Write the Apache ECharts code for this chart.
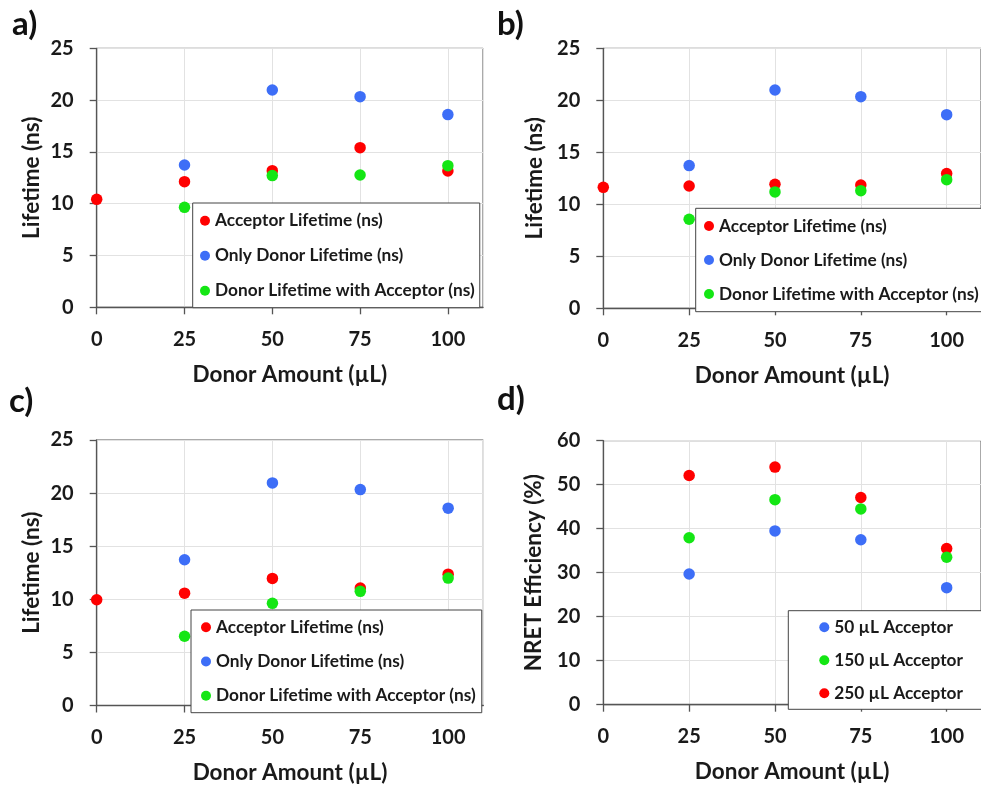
<!DOCTYPE html>
<html>
<head>
<meta charset="utf-8">
<script src="https://cdn.jsdelivr.net/npm/echarts@6/dist/echarts.min.js"></script>
<style>
html,body{margin:0;padding:0;background:#fff;}
#chart{width:981px;height:785px;}
</style>
</head>
<body>
<div id="chart"></div>
<script>
// ---- data ----
const donorAll = [0, 25, 50, 75, 100];
const donorNoZero = [25, 50, 75, 100];
const xTickLabels = ['0', '25', '50', '75', '100'];

const seriesNamesLifetime = ['Acceptor Lifetime (ns)', 'Only Donor Lifetime (ns)', 'Donor Lifetime with Acceptor (ns)'];
const seriesNamesEff = ['50 µL Acceptor', '150 µL Acceptor', '250 µL Acceptor'];

// panel a
const aAcceptor = [10.42, 12.13, 13.19, 15.41, 13.16];
const aOnlyDonor = [13.74, 20.98, 20.33, 18.60];
const aDonorWithAcc = [9.65, 12.71, 12.77, 13.67];
// panel b
const bAcceptor = [11.63, 11.76, 11.92, 11.86, 12.95];
const bOnlyDonor = [13.72, 20.99, 20.35, 18.62];
const bDonorWithAcc = [8.56, 11.19, 11.31, 12.37];
// panel c
const cAcceptor = [9.96, 10.58, 11.97, 11.06, 12.37];
const cOnlyDonor = [13.72, 20.96, 20.33, 18.58];
const cDonorWithAcc = [6.52, 9.62, 10.75, 12.00];
// panel d
const d50 = [29.7, 39.5, 37.5, 26.6];
const d150 = [37.95, 46.6, 44.5, 33.5];
const d250 = [52.1, 54.0, 47.1, 35.5];

const panelLabels = ['a)', 'b)', 'c)', 'd)'];
const yNames = ['Lifetime (ns)', 'Lifetime (ns)', 'Lifetime (ns)', 'NRET Efficiency (%)'];
const xName = 'Donor Amount (µL)';

// ---- styles ----
const FONT = 'Lato';
const RED = '#ff0000', BLUE = '#3d6ef7', GREEN = '#14e614';
const TXT = '#1a1a1a';

const pair = (xs, ys) => ys.map((v, i) => [xs[i], v]);

const grids = [
  {left: 96.7, top: 48.3, width: 386.3, height: 259},
  {left: 603.3, top: 48.3, width: 382.8, height: 260},
  {left: 96.7, top: 440, width: 386.6, height: 266},
  {left: 603.3, top: 440.7, width: 382.8, height: 264}
];

const yMax = [25, 25, 25, 60];
const yInt = [5, 5, 5, 10];
const yNameGap = [53, 57, 53.5, 58.5];
const xNameGap = [56, 56, 55.5, 55.5];

const option = {
  backgroundColor: '#fff',
  animation: false,
  textStyle: {fontFamily: FONT},
  grid: grids.map(g => Object.assign({show: true, borderColor: '#555', borderWidth: 1, backgroundColor: 'transparent', containLabel: false}, g)),
  xAxis: grids.map((g, i) => ({
    type: 'value', gridIndex: i, min: 0, max: 110, interval: 25,
    name: xName, nameLocation: 'middle', nameGap: xNameGap[i],
    nameTextStyle: {fontFamily: FONT, fontWeight: 'bold', fontSize: 22.5, color: TXT},
    axisLine: {show: true, onZero: false, lineStyle: {color: '#555', width: 1.3}},
    axisTick: {show: true, length: 7, lineStyle: {color: '#555', width: 1.3}},
    axisLabel: {margin: 22, fontFamily: FONT, fontWeight: 'bold', fontSize: 20, color: TXT,
      showMaxLabel: false,
      formatter: v => (xTickLabels.indexOf(String(v)) >= 0 ? String(v) : '')},
    splitLine: {show: true, lineStyle: {color: '#e2e2e2', width: 1}}
  })),
  yAxis: grids.map((g, i) => ({
    type: 'value', gridIndex: i, min: 0, max: yMax[i], interval: yInt[i],
    name: yNames[i], nameLocation: 'middle', nameGap: yNameGap[i],
    nameTextStyle: {fontFamily: FONT, fontWeight: 'bold', fontSize: 22.5, color: TXT},
    axisLine: {show: true, lineStyle: {color: '#555', width: 1.3}},
    axisTick: {show: true, length: 7, lineStyle: {color: '#555', width: 1.3}},
    axisLabel: {margin: 23, fontFamily: FONT, fontWeight: 'bold', fontSize: 20, color: TXT},
    splitLine: {show: true, lineStyle: {color: '#e2e2e2', width: 1}}
  })),
  legend: [
    {left: 192.7, top: 203, padding: [7.7, 5, 7, 7.3], itemGap: 15, data: seriesNamesLifetime},
    {left: 695.7, top: 208.3, padding: [7.7, 30, 7.7, 8.3], itemGap: 14, data: seriesNamesLifetime},
    {left: 191, top: 610, padding: [7.3, 6, 7, 10], itemGap: 14.2, data: seriesNamesLifetime},
    {left: 788.3, top: 610.7, padding: [6.6, 40, 6, 31], itemGap: 13, data: seriesNamesEff}
  ].map(l => Object.assign({
    orient: 'vertical', icon: 'circle', itemWidth: 10, itemHeight: 10,
    selectedMode: false, backgroundColor: '#fff', borderColor: '#444', borderWidth: 1, borderRadius: 0,
    textStyle: {fontFamily: FONT, fontWeight: 'bold', fontSize: 17.3, color: TXT, lineHeight: 20},
    z: 10
  }, l)),
  graphic: [
    {type: 'text', left: 12, top: 8, style: {text: panelLabels[0], font: 'bold 33px Lato', fill: '#111'}},
    {type: 'text', left: 497, top: 8, style: {text: panelLabels[1], font: 'bold 33px Lato', fill: '#111'}},
    {type: 'text', left: 9, top: 385, style: {text: panelLabels[2], font: 'bold 33px Lato', fill: '#111'}},
    {type: 'text', left: 497, top: 383, style: {text: panelLabels[3], font: 'bold 33px Lato', fill: '#111'}}
  ],
  series: []
};

function sc(name, xi, data, color) {
  return {type: 'scatter', name: name, xAxisIndex: xi, yAxisIndex: xi, data: data,
    symbolSize: 11.5, itemStyle: {color: color, opacity: 1}, emphasis: {disabled: true}};
}

const lifetimePanels = [
  [aAcceptor, aOnlyDonor, aDonorWithAcc],
  [bAcceptor, bOnlyDonor, bDonorWithAcc],
  [cAcceptor, cOnlyDonor, cDonorWithAcc]
];
lifetimePanels.forEach((p, i) => {
  option.series.push(sc(seriesNamesLifetime[0], i, pair(donorAll, p[0]), RED));
  option.series.push(sc(seriesNamesLifetime[1], i, pair(donorNoZero, p[1]), BLUE));
  option.series.push(sc(seriesNamesLifetime[2], i, pair(donorNoZero, p[2]), GREEN));
});
option.series.push(sc(seriesNamesEff[0], 3, pair(donorNoZero, d50), BLUE));
option.series.push(sc(seriesNamesEff[2], 3, pair(donorNoZero, d250), RED));
option.series.push(sc(seriesNamesEff[1], 3, pair(donorNoZero, d150), GREEN));

const chart = echarts.init(document.getElementById('chart'), null, {renderer: 'canvas'});
chart.setOption(option);
</script>
</body>
</html>
